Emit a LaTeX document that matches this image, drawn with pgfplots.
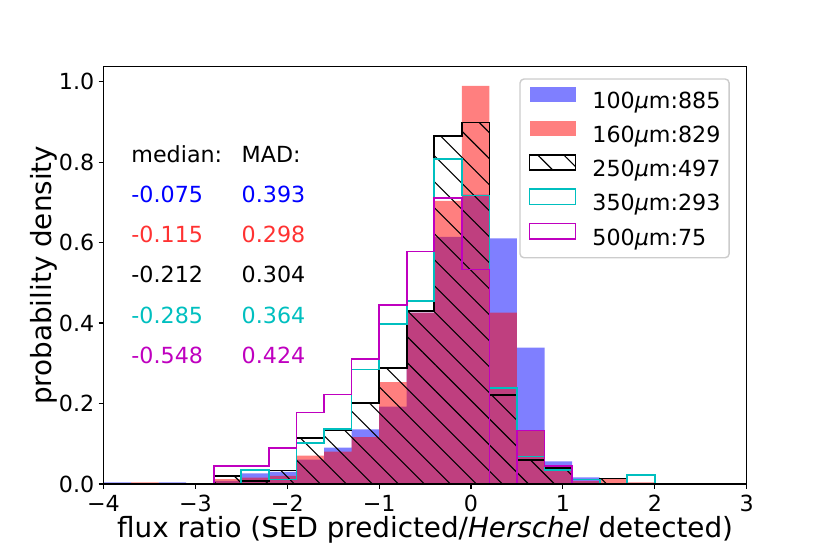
\documentclass[border=0pt]{standalone}
\usepackage{fontspec}
\setmainfont{DejaVu Sans}
\usepackage{pgfplots}
\pgfplotsset{compat=1.18}
\usepackage{pgfplotstable}
\usetikzlibrary{patterns.meta}

\definecolor{mplc}{rgb}{0,0.75,0.75}
\definecolor{mplm}{rgb}{0.75,0,0.75}
\definecolor{txtred}{RGB}{255,50,50}

% step histograms: bin left edges, densities (bins of width 0.3 from -4 to 2)
\pgfplotstableread{
x     b       r       k       c       m
-4.0  0       0       0       0       0
-4.0  0.0038  0       0       0       0
-3.7  0       0.0040  0       0       0
-3.4  0.0038  0       0       0       0
-3.1  0       0       0       0       0
-2.8  0.0075  0.0121  0.0201  0       0.0444
-2.5  0.0264  0.0161  0.0067  0.0341  0.0444
-2.2  0.0301  0.0201  0.0335  0.0114  0.0889
-1.9  0.0603  0.0704  0.1140  0.1024  0.1778
-1.6  0.0904  0.0804  0.1341  0.1365  0.2222
-1.3  0.1356  0.1166  0.2012  0.2844  0.3111
-1.0  0.1921  0.2533  0.2884  0.3982  0.4444
-0.7  0.4256  0.4262  0.4292  0.4551  0.5778
-0.4  0.6139  0.7037  0.8652  0.8078  0.7111
-0.1  0.7193  0.9892  0.8987  0.7168  0.5333
0.2   0.6101  0.4262  0.2213  0.2389  0
0.5   0.3390  0.1327  0.0604  0.0683  0.1333
0.8   0.0565  0.0422  0.0402  0.0341  0.0444
1.1   0.0166  0.0080  0       0.0114  0
1.4   0       0.0121  0.0134  0       0
1.7   0       0.0040  0       0.0228  0
2.0   0       0       0       0       0
}\histdata

\tikzset{hatchk/.style={pattern={Lines[angle=-45, distance=9.2pt, line width=0.55pt]}, pattern color=black}}

\begin{document}
\begin{tikzpicture}[font=\fontsize{11.1}{13.3}\selectfont]
\useasboundingbox (-51.75pt,-35pt) rectangle (363.25pt,242pt);
\begin{axis}[
  at={(0pt,0pt)}, anchor=south west,
  scale only axis, width=321.6pt, height=208.65pt,
  xmin=-4, xmax=3, ymin=0, ymax=1.037,
  axis on top,
  axis line style={line width=0.55pt, black},
  tick style={line width=0.55pt, black},
  tick align=outside, major tick length=2.43pt,
  xtick pos=left, ytick pos=left,
  xtick={-4,-3,-2,-1,0,1,2,3},
  xticklabels={−4,−3,−2,−1,0,1,2,3},
  ytick={0,0.2,0.4,0.6,0.8,1.0},
  yticklabels={0.0,0.2,0.4,0.6,0.8,1.0},
  xticklabel style={inner sep=0pt, anchor=north, yshift=-3pt},
  yticklabel style={inner sep=0pt, anchor=east, xshift=-2pt},
  xlabel={flux ratio (SED predicted/\textit{Herschel} detected)},
  ylabel={probability density},
  label style={font=\fontsize{13.9}{16.7}\selectfont},
  xlabel style={at={(axis description cs:0.5,-0.1277)}, anchor=base, inner sep=0pt},
  ylabel style={at={(axis description cs:-0.0925,0.5)}, anchor=center, inner sep=0pt},
  legend cell align=left,
  legend style={at={(0.6465,0.9722)}, anchor=north west,
    draw=black!20, line width=0.7pt, rounded corners=2pt, fill=white,
    inner xsep=4.35pt, inner ysep=4pt, row sep=3.65pt,
    nodes={inner sep=0pt, text height=8.2pt, text depth=2.3pt},
    /tikz/every odd column/.style={column sep=8pt}},
]
\addplot[const plot, draw=none, fill=blue, fill opacity=0.5,
  legend image code/.code={\fill[blue, fill opacity=0.5, sharp corners] (0pt,0.15pt) rectangle (23pt,7.85pt);}]
  table[x=x, y=b] {\histdata} \closedcycle;
\addlegendentry{100{\itshape μ}m:885}
\addplot[const plot, draw=none, fill=red, fill opacity=0.5,
  legend image code/.code={\fill[red, fill opacity=0.5, sharp corners] (0pt,0.15pt) rectangle (23pt,7.85pt);}]
  table[x=x, y=r] {\histdata} \closedcycle;
\addlegendentry{160{\itshape μ}m:829}
\addplot[const plot, draw=black, line width=0.85pt, hatchk,
  legend image code/.code={\draw[black, line width=0.85pt, hatchk, sharp corners] (0pt,0.15pt) rectangle (23pt,7.85pt);}]
  table[x=x, y=k] {\histdata} \closedcycle;
\addlegendentry{250{\itshape μ}m:497}
\addplot[const plot, draw=mplc, line width=0.85pt,
  legend image code/.code={\draw[mplc, line width=0.85pt, sharp corners] (0pt,0.15pt) rectangle (23pt,7.85pt);}]
  table[x=x, y=c] {\histdata};
\addlegendentry{350{\itshape μ}m:293}
\addplot[const plot, draw=mplm, line width=0.85pt,
  legend image code/.code={\draw[mplm, line width=0.85pt, sharp corners] (0pt,0.15pt) rectangle (23pt,7.85pt);}]
  table[x=x, y=m] {\histdata};
\addlegendentry{500{\itshape μ}m:75}

\node[anchor=base west, inner sep=0pt] at (axis cs:-3.7,0.8) {median:};
\node[anchor=base west, inner sep=0pt] at (axis cs:-2.5,0.8) {MAD:};
\node[anchor=base west, inner sep=0pt, text=blue] at (axis cs:-3.7,0.7) {-0.075};
\node[anchor=base west, inner sep=0pt, text=blue] at (axis cs:-2.5,0.7) {0.393};
\node[anchor=base west, inner sep=0pt, text=txtred] at (axis cs:-3.7,0.6) {-0.115};
\node[anchor=base west, inner sep=0pt, text=txtred] at (axis cs:-2.5,0.6) {0.298};
\node[anchor=base west, inner sep=0pt, text=black] at (axis cs:-3.7,0.5) {-0.212};
\node[anchor=base west, inner sep=0pt, text=black] at (axis cs:-2.5,0.5) {0.304};
\node[anchor=base west, inner sep=0pt, text=mplc] at (axis cs:-3.7,0.4) {-0.285};
\node[anchor=base west, inner sep=0pt, text=mplc] at (axis cs:-2.5,0.4) {0.364};
\node[anchor=base west, inner sep=0pt, text=mplm] at (axis cs:-3.7,0.3) {-0.548};
\node[anchor=base west, inner sep=0pt, text=mplm] at (axis cs:-2.5,0.3) {0.424};
\end{axis}
\end{tikzpicture}
\end{document}
